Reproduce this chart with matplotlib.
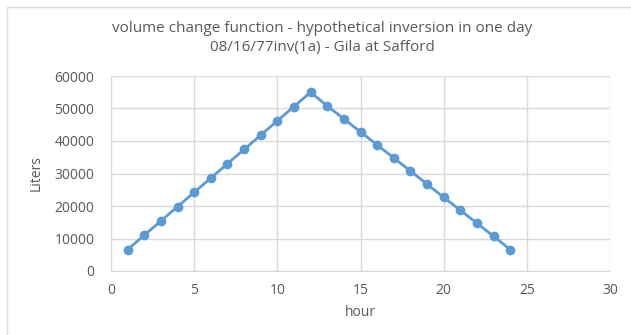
import matplotlib
matplotlib.use("Agg")
import matplotlib.pyplot as plt
from matplotlib.patches import Rectangle

plt.rcParams['font.family'] = ['Open Sans', 'DejaVu Sans']

hours = [1, 2, 3, 4, 5, 6, 7, 8, 9, 10, 11, 12,
         13, 14, 15, 16, 17, 18, 19, 20, 21, 22, 23, 24]
liters = [6600, 11000, 15400, 19800, 24200, 28600, 33000, 37400, 41800, 46200, 50600, 55000,
          50800, 46800, 42800, 38800, 34800, 30800, 26700, 22700, 18700, 14700, 10700, 6600]
title_lines = ["volume change function - hypothetical inversion in one day",
               "08/16/77inv(1a) - Gila at Safford"]
xlabel = "hour"
ylabel = "Liters"

TXT = "#595959"
fig = plt.figure(figsize=(6.31, 3.35), dpi=100)
fig.patches.append(Rectangle((7/631, -0.05), 1.1, 1.05 - 7/335,
                             transform=fig.transFigure, fill=False,
                             edgecolor="#D9D9D9", linewidth=1))
ax = fig.add_axes([111/631, 1-271/335, (610-111)/631, (271-76)/335])
ax.plot(hours, liters, color="#5B9BD5", linewidth=2, marker="o", markersize=7,
        markeredgewidth=0, zorder=3)
ax.set_xlim(0, 30)
ax.set_ylim(0, 60000)
ax.set_xticks(range(0, 31, 5))
ax.set_yticks(range(0, 60001, 10000))
ax.grid(True, color="#D9D9D9", linewidth=1)
ax.set_axisbelow(True)
for s in ["top", "right", "left"]:
    ax.spines[s].set_visible(False)
ax.spines["bottom"].set_color("#D9D9D9")
ax.tick_params(length=0, labelsize=10, colors=TXT)
ax.tick_params(axis='y', pad=12)
ax.tick_params(axis='x', pad=9)
ax.set_xlabel(xlabel, fontsize=10, color=TXT, labelpad=5)
ax.set_ylabel(ylabel, fontsize=10, color=TXT, labelpad=8)
fig.text(322/631, 1-28/335, title_lines[0], ha="center", va="center",
         fontsize=11, color=TXT)
fig.text(322/631, 1-47/335, title_lines[1], ha="center", va="center",
         fontsize=11, color=TXT)
fig.savefig("out.png", dpi=100)
